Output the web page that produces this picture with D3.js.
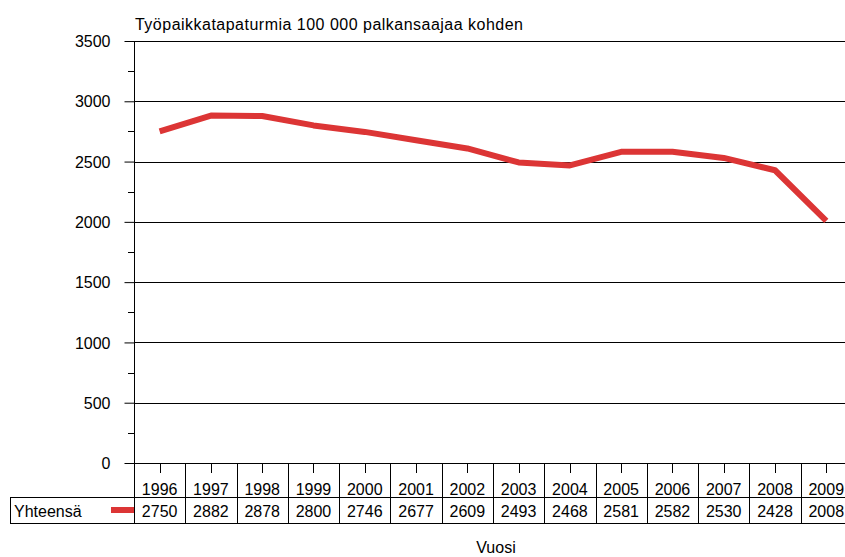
<!DOCTYPE html>
<html>
<head>
<meta charset="utf-8">
<script src="https://cdn.jsdelivr.net/npm/d3@7"></script>
<style>
  body { margin: 0; background: #fff; }
  svg { display: block; }
  text { font-family: "Liberation Sans", Arial, sans-serif; fill: #000; }
</style>
</head>
<body>
<script>
const years = ["1996", "1997", "1998", "1999", "2000", "2001", "2002", "2003", "2004", "2005", "2006", "2007", "2008", "2009"];
const values = [2750, 2882, 2878, 2800, 2746, 2677, 2609, 2493, 2468, 2581, 2582, 2530, 2428, 2008];
const yTicks = [0, 500, 1000, 1500, 2000, 2500, 3000, 3500];
const seriesName = "Yhteensä";
const title = "Työpaikkatapaturmia 100 000 palkansaajaa kohden";
const xTitle = "Vuosi";

const w = 845, h = 557;
const plotLeft = 134, plotTop = 41, plotBottom = 463;
const colW = 51.28;
const row1 = 497, row2 = 523;
const red = "#dc3535";

const svg = d3.select("body").append("svg").attr("width", w).attr("height", h);

const xScale = d3.scaleBand().domain(years).range([plotLeft, plotLeft + colW * years.length]).padding(0);
const yScale = d3.scaleLinear().domain([0, 3500]).range([plotBottom, plotTop]);

// gridlines
svg.append("g").selectAll("line").data(yTicks).enter().append("line")
  .attr("x1", plotLeft).attr("x2", w)
  .attr("y1", d => Math.round(yScale(d)) + 0.5).attr("y2", d => Math.round(yScale(d)) + 0.5)
  .attr("stroke", "#000").attr("stroke-width", 1);

// y axis with major and minor ticks
const yAxis = d3.axisLeft(yScale).tickValues(yTicks).tickFormat(d3.format("d")).tickSize(10).tickPadding(14);
const gy = svg.append("g").attr("transform", "translate(" + (plotLeft + 0.5) + ",0)").call(yAxis);
gy.select(".domain").remove();
gy.selectAll(".tick line").attr("stroke", "#000");
gy.selectAll(".tick text").style("font-size", "16px").attr("font-family", null).attr("dy", "0.35em");

const minor = d3.range(250, 3500, 500);
svg.append("g").selectAll("line").data(minor).enter().append("line")
  .attr("x1", plotLeft - 6).attr("x2", plotLeft)
  .attr("y1", d => Math.round(yScale(d)) + 0.5).attr("y2", d => Math.round(yScale(d)) + 0.5)
  .attr("stroke", "#000");

// vertical axis line
svg.append("line").attr("x1", plotLeft + 0.5).attr("x2", plotLeft + 0.5).attr("y1", plotTop).attr("y2", row2)
  .attr("stroke", "#000");

// table lines
svg.append("line").attr("x1", 10).attr("x2", w).attr("y1", row1 + 0.5).attr("y2", row1 + 0.5).attr("stroke", "#000");
svg.append("line").attr("x1", 10).attr("x2", w).attr("y1", row2 + 0.5).attr("y2", row2 + 0.5).attr("stroke", "#000");
svg.append("line").attr("x1", 10.5).attr("x2", 10.5).attr("y1", row1).attr("y2", row2 + 1).attr("stroke", "#000");

// column separators
svg.append("g").selectAll("line").data(years.slice(1)).enter().append("line")
  .attr("x1", d => Math.round(xScale(d)) + 0.5).attr("x2", d => Math.round(xScale(d)) + 0.5)
  .attr("y1", plotBottom).attr("y2", row2)
  .attr("stroke", "#000");

// x ticks
svg.append("g").selectAll("line").data(years).enter().append("line")
  .attr("x1", d => Math.round(xScale(d) + colW / 2) + 0.5).attr("x2", d => Math.round(xScale(d) + colW / 2) + 0.5)
  .attr("y1", plotBottom).attr("y2", plotBottom + 10)
  .attr("stroke", "#000");

// year labels and values
svg.append("g").selectAll("text").data(years).enter().append("text")
  .attr("x", d => xScale(d) + colW / 2).attr("y", 495)
  .attr("text-anchor", "middle").style("font-size", "16px")
  .text(d => d);
svg.append("g").selectAll("text").data(values).enter().append("text")
  .attr("x", (d, i) => xScale(years[i]) + colW / 2).attr("y", 517)
  .attr("text-anchor", "middle").style("font-size", "16px")
  .text(d => d);

// legend
svg.append("text").attr("x", 14).attr("y", 517).style("font-size", "16px").text(seriesName);
svg.append("line").attr("x1", 111).attr("x2", plotLeft).attr("y1", 510).attr("y2", 510)
  .attr("stroke", red).attr("stroke-width", 6);

// series line
const line = d3.line()
  .x((d, i) => xScale(years[i]) + colW / 2)
  .y(d => yScale(d));
svg.append("path").datum(values)
  .attr("d", line)
  .attr("fill", "none")
  .attr("stroke", red).attr("stroke-width", 6)
  .attr("stroke-linejoin", "round");

// titles
svg.append("text").attr("x", 135).attr("y", 30).style("font-size", "16px")
  .attr("textLength", 388).attr("lengthAdjust", "spacing").text(title);
svg.append("text").attr("x", 496).attr("y", 553).attr("text-anchor", "middle").style("font-size", "16px").text(xTitle);
</script>
</body>
</html>
